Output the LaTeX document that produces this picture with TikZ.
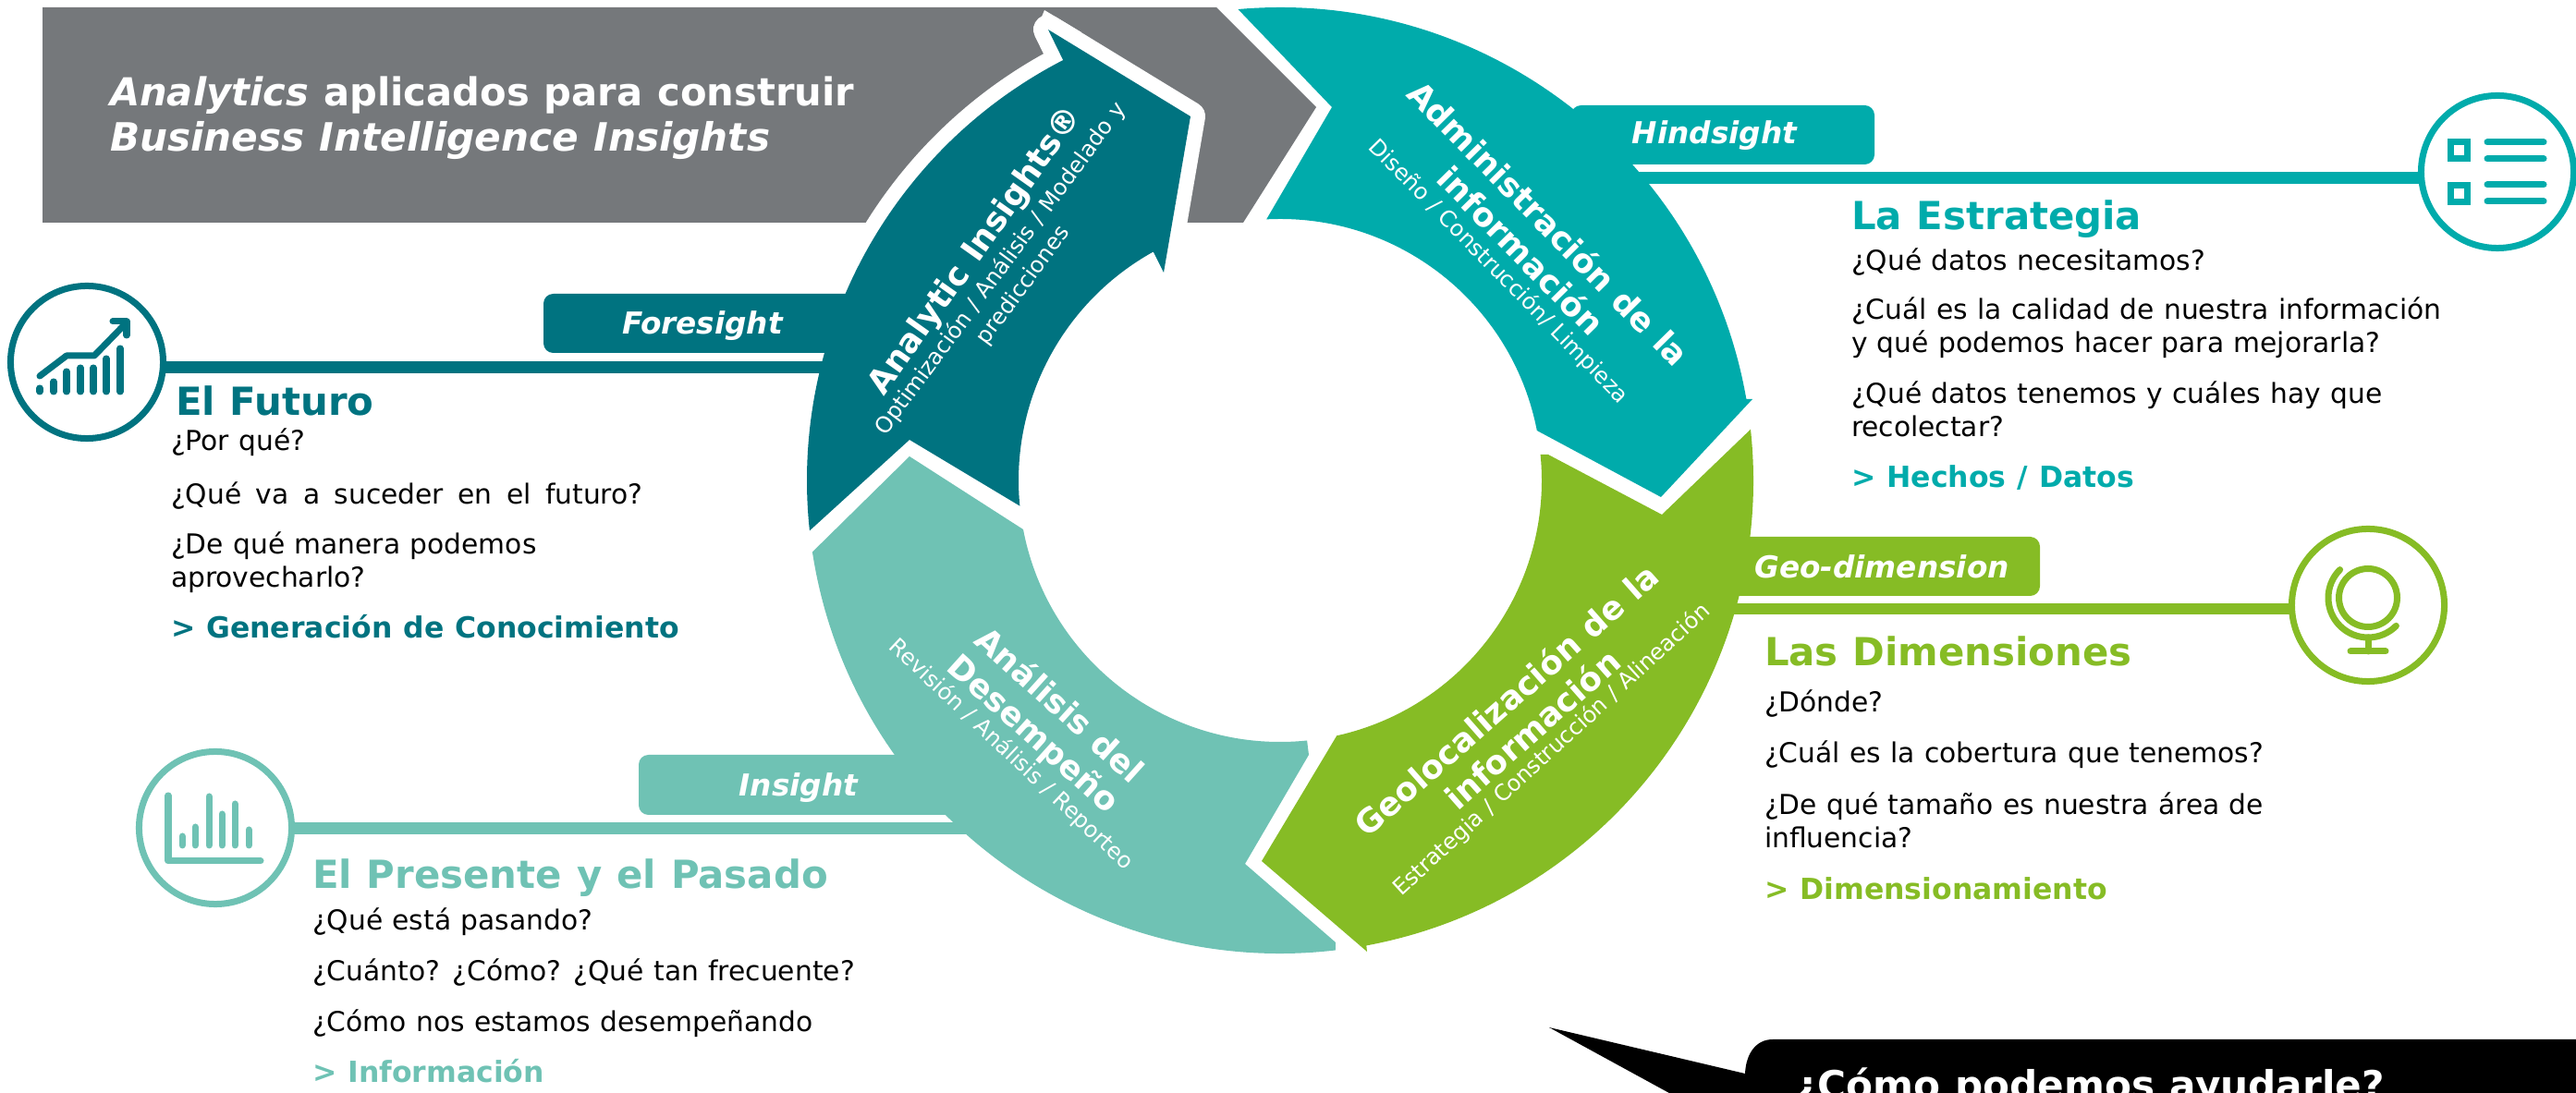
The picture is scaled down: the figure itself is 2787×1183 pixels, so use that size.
\documentclass[tikz,border=0pt]{standalone}
\usepackage{fontspec}
\setmainfont[WordSpace=1.1]{DejaVu Sans}
\usetikzlibrary{calc}
\definecolor{cdark}{HTML}{007380}
\definecolor{cteal}{HTML}{00ABAB}
\definecolor{cgreen}{HTML}{86BC25}
\definecolor{clight}{HTML}{6FC2B4}
\definecolor{cgrey}{HTML}{75787B}
\tikzset{
  txt/.style={anchor=base west,inner sep=0pt,outer sep=0pt},
  body/.style={txt,text=black,font=\fontsize{8.45}{10}\selectfont},
  head/.style={txt,font=\bfseries\fontsize{11.9}{14}\selectfont},
  concl/.style={txt,font=\bfseries\fontsize{8.95}{10}\selectfont},
  tabtxt/.style={inner sep=0pt,text=white,font=\bfseries\itshape\fontsize{9.3}{10}\selectfont},
  rtitle/.style={inner sep=0pt,text=white,align=center,font=\bfseries\fontsize{10.1}{11.9}\selectfont},
  rsub/.style={inner sep=0pt,text=white,align=center,font=\fontsize{6.85}{8.5}\selectfont},
  icon/.style={circle,fill=white,draw,line width=0.7mm,minimum size=1.65cm,inner sep=0pt},
  glyph/.style={line width=0.7mm,line cap=round,line join=round},
}
\begin{document}
\begin{tikzpicture}[x=0.01cm,y=-0.01cm]
\useasboundingbox (0,0) rectangle (2787,1183);
\clip (0,0) rectangle (2787,1183);
\coordinate (c) at (1385,520);
% banner
\fill[cgrey] (46,8) -- (1316,8) -- (1424,116) -- (1345,241) -- (46,241) -- cycle;
\begin{scope}
\clip (46,8) -- (1316,8) -- (1424,116) -- (1345,241) -- (46,241) -- cycle;
\draw[white,line width=0.32cm,line join=round]
  (c) ++(173.9:512) arc[start angle=173.9,end angle=242.7,radius=512]
  -- (1134,32) -- (1288,126) -- (1259,295) -- (1248,273) -- (1101,548) -- (984,476) -- cycle;
\fill[white] (1125,23) -- (1130,11) -- (1170,35) -- (1140,60) -- cycle;
\end{scope}
% tabs and leader lines
\fill[cteal,rounded corners=3pt] (1700,114) rectangle (2028,178);
\fill[cteal] (1700,186) rectangle (2620,199.5);
\fill[cdark,rounded corners=3pt] (588,318) rectangle (960,382);
\fill[cdark] (178,391) rectangle (960,404);
\fill[cgreen,rounded corners=3pt] (1800,581) rectangle (2207,645);
\fill[cgreen] (1800,653) rectangle (2480,665.5);
\fill[clight,rounded corners=3pt] (691,817) rectangle (1060,882);
\fill[clight] (316,890) rectangle (1060,903);
% icon circles
\node[icon,draw=cdark] (icF) at (94,392) {};
\node[icon,draw=cteal] (icH) at (2702,186) {};
\node[icon,draw=cgreen] (icG) at (2562,655) {};
\node[icon,draw=clight] (icI) at (233,896) {};
% future icon
\draw[glyph,cdark] (43,424) -- (43,420) (58,424) -- (58,413) (72,424) -- (72,402) (87,424) -- (87,398)
  (101,424) -- (101,398) (115,424) -- (115,388) (130,424) -- (130,377);
\draw[glyph,cdark] (43,407) -- (72,385) -- (102,385) -- (137,349);
\draw[glyph,cdark] (122,348) -- (137,348) -- (137,363);
% strategy icon
\draw[cteal,line width=0.7mm] (2651.5,153.5) rectangle (2669.5,171.5);
\draw[cteal,line width=0.7mm] (2651.5,200.5) rectangle (2669.5,218.5);
\draw[glyph,cteal] (2691,154) -- (2752,154) (2691,172) -- (2752,172) (2691,200) -- (2752,200) (2691,218) -- (2752,218);
% globe icon
\draw[glyph,cgreen] (2562,647) circle[radius=31.5];
\draw[glyph,cgreen] (2562,647) ++(225:43) arc[start angle=225,end angle=45,radius=43];
\draw[glyph,cgreen] (2562,690) -- (2562,705) (2543,705) -- (2581,705);
% bars icon
\draw[glyph,clight] (182,861) -- (182,932) -- (282,932);
\draw[glyph,clight] (197,905) -- (197,915) (211,895) -- (211,915) (226,862) -- (226,915) (240,881) -- (240,915) (254,870) -- (254,915) (269,898) -- (269,915);
% ring arrows
\fill[cdark] (c) ++(173.9:512) arc[start angle=173.9,end angle=242.7,radius=512]
  -- (1134,32) -- (1288,126) -- (1259,295) -- ($(c)+(241:283)$)
  arc[start angle=241,end angle=174.4,radius=283] -- (984,476) -- cycle;
\fill[cteal] (c) ++(-95.1:512) arc[start angle=-95.1,end angle=-9.9,radius=512]
  -- (1896,432) -- (1797,538) -- ($(c)+(-11:283)$)
  arc[start angle=-11,end angle=-93,radius=283] -- (1441,116) -- cycle;
\fill[cgreen] (1675,492) -- (1798,557) -- ($(c)+(-6.2:512)$)
  arc[start angle=-6.2,end angle=79.5,radius=512]
  -- (1479,1030) -- (1365,932) -- ($(c)+(77.5:283)$)
  arc[start angle=77.5,end angle=-5.7,radius=283] -- cycle;
\fill[clight] (984,494) -- ($(c)+(169.2:283)$)
  arc[start angle=169.2,end angle=84.1,radius=283]
  -- (1416,817) -- (1347,935) -- (1445,1020) -- ($(c)+(83.3:512)$)
  arc[start angle=83.3,end angle=171.3,radius=512] -- cycle;
% speech bubble
\fill[black] (1676,1112) -- (1888,1162) .. controls (1889,1140) and (1900,1125) .. (1918,1125)
  -- (2800,1125) -- (2800,1200) -- (1837,1200) -- cycle;
\node[txt,text=white,font=\bfseries\fontsize{12}{14}\selectfont] (bub) at (1942,1190) {¿Cómo podemos ayudarle?};
% banner text
\node[txt,text=white,font=\bfseries\fontsize{11.85}{14}\selectfont] (ban1) at (119,115) {\textit{Analytics} aplicados para construir};
\node[txt,text=white,font=\bfseries\itshape\fontsize{12}{14}\selectfont] (ban2) at (119,164) {Business Intelligence Insights};
% tab text
\node[tabtxt] (tH) at (1855,147) {Hindsight};
\node[tabtxt] (tF) at (760,353) {Foresight};
\node[tabtxt] (tG) at (2036,613) {Geo-dimension};
\node[tabtxt] (tI) at (864,853) {Insight};
% ring text
\node[rtitle,rotate=-45.5] (r1) at (1661,256) {Administración de la\\información};
\node[rsub,rotate=-45.5] (r1s) at (1621,294) {Diseño / Construcción/ Limpieza};
\node[rtitle,rotate=54.7] (r2) at (1056,272) {Analytic Insights®};
\node[rsub,rotate=53.6] (r2s) at (1095,300) {Optimización / Análisis / Modelado y\\predicciones};
\node[rtitle,rotate=41.4] (r3) at (1643.5,773) {Geolocalización de la\\información};
\node[rsub,rotate=42.5] (r3s) at (1679,812) {Estrategia / Construcción / Alineación};
\node[rtitle,rotate=-42] (r4) at (1131,780) {Análisis del\\Desempeño};
\node[rsub,rotate=-43.2] (r4s) at (1094,817) {Revisión / Análisis / Reporteo};
% right top
\node[head,text=cteal] (h1) at (2003,249) {La Estrategia};
\node[body] (h1a) at (2003,293) {¿Qué datos necesitamos?};
\node[body] (h1b) at (2003,346) {¿Cuál es la calidad de nuestra información};
\node[body] (h1c) at (2003,382) {y qué podemos hacer para mejorarla?};
\node[body] (h1d) at (2003,437) {¿Qué datos tenemos y cuáles hay que};
\node[body] (h1e) at (2003,473) {recolectar?};
\node[concl,text=cteal] (h1f) at (2003,528) {> Hechos / Datos};
% left
\node[head,text=cdark] (h2) at (190,450) {El Futuro};
\node[body] (h2a) at (185,488) {¿Por qué?};
\node[body] (h2b) at (185,546) {\spaceskip=4.4pt ¿Qué va a suceder en el futuro?};
\node[body] (h2c) at (185,600) {¿De qué manera podemos};
\node[body] (h2d) at (185,636) {aprovecharlo?};
\node[concl,text=cdark] (h2e) at (185,691) {> Generación de Conocimiento};
% lower left
\node[head,text=clight] (h3) at (338,962) {El Presente y el Pasado};
\node[body] (h3a) at (338,1007) {¿Qué está pasando?};
\node[body] (h3b) at (338,1062) {¿Cuánto? ¿Cómo? ¿Qué tan frecuente?};
\node[body] (h3c) at (338,1117) {¿Cómo nos estamos desempeñando};
\node[concl,text=clight] (h3d) at (338,1172) {> Información};
% right lower
\node[head,text=cgreen] (h4) at (1909,721) {Las Dimensiones};
\node[body] (h4a) at (1909,771) {¿Dónde?};
\node[body] (h4b) at (1909,826) {¿Cuál es la cobertura que tenemos?};
\node[body] (h4c) at (1909,882) {¿De qué tamaño es nuestra área de};
\node[body] (h4d) at (1909,918) {influencia?};
\node[concl,text=cgreen] (h4e) at (1909,974) {> Dimensionamiento};
\end{tikzpicture}
\end{document}
